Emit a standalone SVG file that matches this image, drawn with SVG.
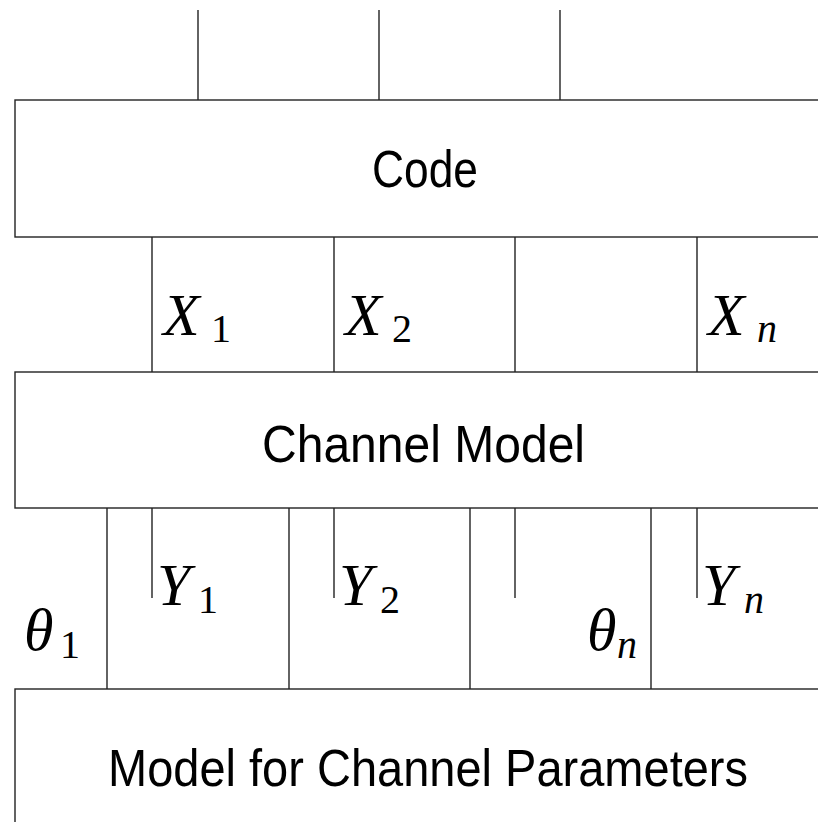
<svg xmlns="http://www.w3.org/2000/svg" width="818" height="822" viewBox="0 0 818 822">
<style>
.box{fill:none;stroke:#222;stroke-width:1.4}
.ln{stroke:#222;stroke-width:1.4;fill:none}
.t{font-family:"Liberation Sans","DejaVu Sans",sans-serif;font-size:52px;fill:#000;text-anchor:middle}
.m{font-family:"Liberation Serif","DejaVu Serif",serif;font-style:italic;font-size:60px;fill:#000}
.s{font-family:"Liberation Serif","DejaVu Serif",serif;font-size:40px;fill:#000}
</style>
<rect x="0" y="0" width="818" height="822" fill="#fff"/>
<g id="connectors">
<line class="ln" x1="198" y1="10" x2="198" y2="100"/>
<line class="ln" x1="379" y1="10" x2="379" y2="100"/>
<line class="ln" x1="560" y1="10" x2="560" y2="100"/>
<line class="ln" x1="152" y1="237" x2="152" y2="372"/>
<line class="ln" x1="334" y1="237" x2="334" y2="372"/>
<line class="ln" x1="515" y1="237" x2="515" y2="372"/>
<line class="ln" x1="697" y1="237" x2="697" y2="372"/>
<line class="ln" x1="107" y1="508" x2="107" y2="689"/>
<line class="ln" x1="289" y1="508" x2="289" y2="689"/>
<line class="ln" x1="470" y1="508" x2="470" y2="689"/>
<line class="ln" x1="651" y1="508" x2="651" y2="689"/>
<line class="ln" x1="152" y1="508" x2="152" y2="598"/>
<line class="ln" x1="334" y1="508" x2="334" y2="598"/>
<line class="ln" x1="515" y1="508" x2="515" y2="598"/>
<line class="ln" x1="697" y1="508" x2="697" y2="598"/>
</g>
<g id="code">
<rect class="box" x="15" y="100" width="830" height="137"/>
<text class="t" x="425" y="187" textLength="106" lengthAdjust="spacingAndGlyphs">Code</text>
</g>
<g id="channel-model">
<rect class="box" x="15" y="372" width="830" height="136"/>
<text class="t" x="423.5" y="462" textLength="323" lengthAdjust="spacingAndGlyphs">Channel Model</text>
</g>
<g id="param-model">
<rect class="box" x="15" y="689" width="830" height="160"/>
<text class="t" x="428" y="786" textLength="640" lengthAdjust="spacingAndGlyphs">Model for Channel Parameters</text>
</g>
<g id="labels">
<text class="m" x="163" y="335">X</text><text class="s" x="211" y="342">1</text>
<text class="m" x="345" y="335">X</text><text class="s" x="392" y="342">2</text>
<text class="m" x="708" y="335">X</text><text class="s" x="757" y="342" font-style="italic">n</text>
<text class="m" x="157" y="605">Y</text><text class="s" x="198" y="613">1</text>
<text class="m" x="339" y="605">Y</text><text class="s" x="380" y="613">2</text>
<text class="m" x="702" y="605">Y</text><text class="s" x="744" y="613" font-style="italic">n</text>
<text class="m" x="24" y="650">θ</text><text class="s" x="60" y="658">1</text>
<text class="m" x="587" y="650">θ</text><text class="s" x="617" y="658" font-style="italic">n</text>
</g>
</svg>
